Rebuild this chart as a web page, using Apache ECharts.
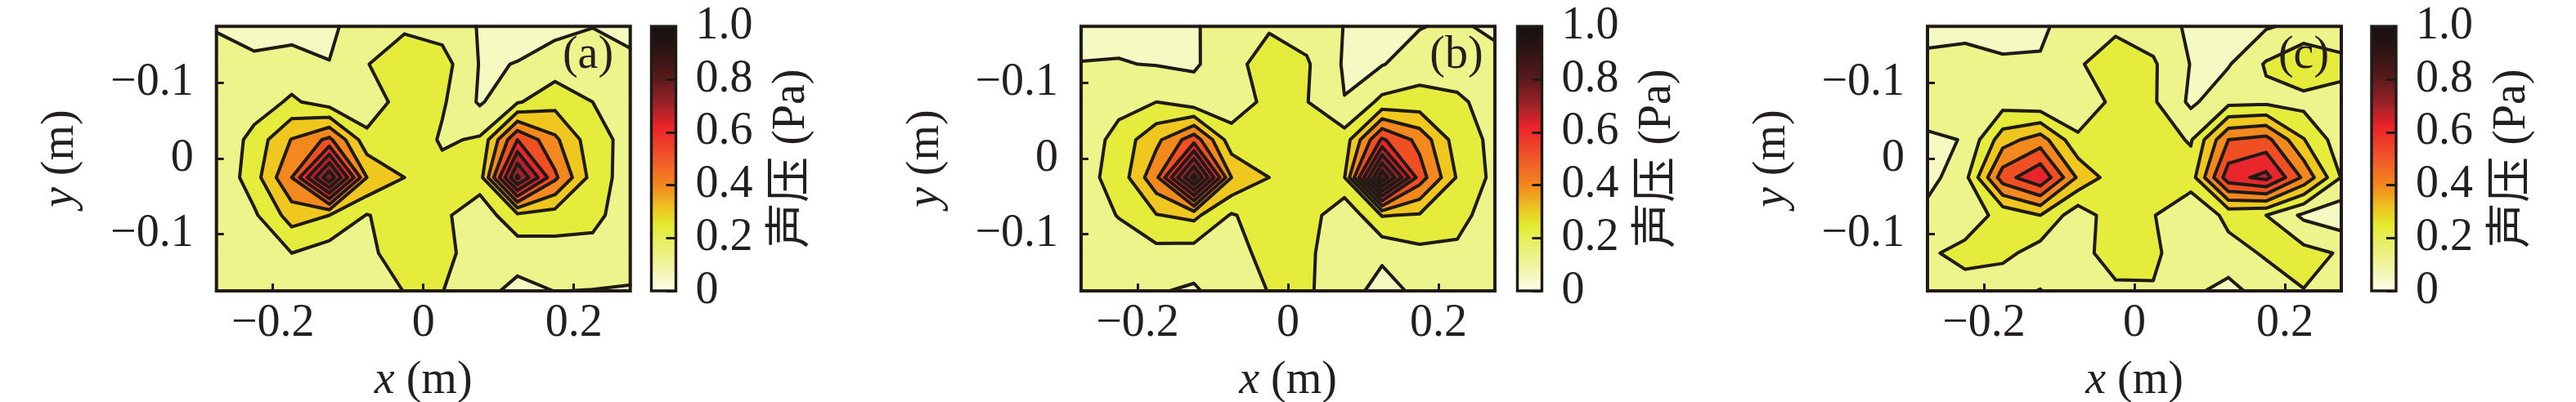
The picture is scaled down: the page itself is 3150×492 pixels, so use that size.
<!DOCTYPE html>
<html><head><meta charset="utf-8">
<style>html,body{margin:0;padding:0;background:#fff}#c{width:3150px;height:492px}</style>
<script src="https://cdn.jsdelivr.net/npm/echarts@6/dist/echarts.min.js"></script>
</head><body><div id="c"></div>
<script>
const xValues=[-0.275,-0.225,-0.175,-0.125,-0.075,-0.025,0.025,0.075,0.125,0.175,0.225,0.275];
const yValues=[-0.175,-0.125,-0.075,-0.025,0.025,0.075,0.125,0.175];
const pressureA=[
[.074,.035,.057,.064,.124,.144,.128,.075,.068,.059,.078,.042],
[.112,.104,.104,.082,.156,.224,.193,.076,.081,.116,.124,.108],
[.096,.114,.174,.119,.096,.208,.171,.070,.152,.212,.160,.120],
[.084,.190,.324,.419,.189,.232,.148,.170,.480,.336,.192,.133],
[.088,.205,.400,.784,.320,.240,.192,.200,.736,.416,.208,.116],
[.104,.147,.275,.240,.156,.200,.176,.112,.219,.204,.184,.112],
[.100,.112,.160,.121,.144,.196,.184,.120,.111,.124,.132,.096],
[.096,.104,.112,.112,.120,.162,.162,.104,.060,.081,.078,.077]];
const pressureB=[
[.056,.064,.060,.072,.120,.147,.129,.078,.064,.076,.096,.058],
[.082,.083,.077,.072,.119,.218,.169,.071,.076,.120,.125,.115],
[.096,.132,.160,.111,.120,.180,.163,.082,.180,.192,.172,.132],
[.105,.191,.299,.448,.191,.208,.196,.195,.492,.374,.200,.141],
[.133,.188,.380,.832,.320,.240,.204,.236,.864,.440,.232,.138],
[.112,.164,.236,.260,.152,.208,.204,.093,.244,.232,.184,.122],
[.096,.112,.134,.124,.128,.188,.172,.120,.096,.138,.146,.112],
[.096,.104,.086,.069,.128,.162,.170,.118,.048,.100,.108,.104]];
const pressureC=[
[.047,.054,.058,.065,.123,.139,.122,.066,.064,.072,.104,.086],
[.104,.112,.088,.088,.148,.218,.170,.077,.074,.168,.228,.192],
[.106,.104,.125,.094,.096,.184,.170,.065,.136,.142,.132,.122],
[.072,.082,.285,.360,.176,.208,.202,.152,.400,.428,.244,.112],
[.050,.135,.443,.548,.308,.192,.184,.200,.528,.584,.384,.156],
[.106,.127,.180,.240,.108,.214,.164,.096,.181,.160,.064,.030],
[.151,.178,.184,.122,.120,.213,.176,.106,.133,.168,.187,.152],
[.120,.136,.096,.078,.120,.138,.154,.098,.051,.122,.158,.112]];
const panelLabels=['(a)','(b)','(c)'];
const contourLevels=[0,.08,.16,.24,.32,.40,.48,.56,.64,.72,.80];
const bandColors=['#f5f9c2','#ecf48b','#e5ec3c','#efc71f','#f3881f','#f04f24','#e8262b','#b8202c','#9d2228','#7a1f24','#5a1a1c'];
const colorStops=[[0,'#fefef0'],[.1,'#f0f4a0'],[.2,'#e7ee5c'],[.25,'#e3ea2e'],[.31,'#ecc722'],[.4,'#f3881f'],[.5,'#f0582a'],[.62,'#ec2229'],[.7,'#9d2228'],[.8,'#5a1a1c'],[.9,'#2f1414'],[1,'#141012']];
const xTickValues=[-0.2,0,0.2], xTickLabels=['\u22120.2','0','0.2'];
const yTickValues=[-0.1,0,0.1], yTickLabels=['\u22120.1','0','\u22120.1'];
const barTickValues=[0,.2,.4,.6,.8,1], barTickLabels=['0','0.2','0.4','0.6','0.8','1.0'];

const INK='#231f20', FONT='"Liberation Serif","Noto Sans CJK SC",serif', FS=56;
const layout=[{left:264.7,bar:796.5,lab:719},{left:1322,bar:1855.5,lab:1781},{left:2357,bar:2900,lab:2817}];
const TOP=32.3,H=323.7,W=506,BW=30;

function contourPaths(P,level){
  let fill='',line='';
  const poly=a=>{fill+='M'+a.map(p=>p[0].toFixed(2)+' '+p[1].toFixed(2)).join('L')+'Z';};
  const seg=(p,q)=>{line+='M'+p[0].toFixed(2)+' '+p[1].toFixed(2)+'L'+q[0].toFixed(2)+' '+q[1].toFixed(2);};
  const cross=(p,q,u,v)=>{const t=(level-u)/(v-u);return [p[0]+t*(q[0]-p[0]),p[1]+t*(q[1]-p[1])];};
  for(let r=0;r<P.length-1;r++)for(let c=0;c<P[0].length-1;c++){
    const k=[P[r][c],P[r][c+1],P[r+1][c+1],P[r+1][c]];
    const vals=[k[0].v,k[1].v,k[2].v,k[3].v], pts=k.map(o=>o.p), up=vals.map(v=>v>=level);
    const saddle=up[0]===up[2]&&up[1]===up[3]&&up[0]!==up[1];
    const mean=(vals[0]+vals[1]+vals[2]+vals[3])/4;
    if(saddle&&mean<level){
      for(let i=0;i<4;i++)if(up[i]){
        const n=(i+1)%4,m=(i+3)%4;
        const A=cross(pts[m],pts[i],vals[m],vals[i]),B=cross(pts[i],pts[n],vals[i],vals[n]);
        poly([A,pts[i],B]);seg(B,A);
      }
      continue;
    }
    const out=[];let leave=null;
    let start=up.indexOf(true); if(start<0)continue;
    for(let s=0;s<4;s++){
      const i=(start+s)%4,n=(i+1)%4;
      if(up[i])out.push(pts[i]);
      if(up[i]!==up[n]){
        const X=cross(pts[i],pts[n],vals[i],vals[n]);
        out.push(X);
        if(up[i])leave=X; else {seg(leave,X);}
      }
    }
    poly(out);
  }
  return {fill,line};
}
function contourSeries(Z,i){
  return {type:'custom',xAxisIndex:i,yAxisIndex:i,z:2,silent:true,clip:false,animation:false,
    data:[[xValues[0],yValues[0]]],
    renderItem(params,api){
      const P=Z.map((row,r)=>row.map((v,c)=>({v,p:api.coord([xValues[c],yValues[r]])})));
      const children=[],lines=[];
      contourLevels.forEach((L,k)=>{
        const g=contourPaths(P,L);
        if(g.fill)children.push({type:'path',shape:{pathData:g.fill},style:{fill:bandColors[k],stroke:bandColors[k],lineWidth:.5}});
        if(k>0&&g.line)lines.push({type:'path',shape:{pathData:g.line},style:{fill:null,stroke:'#1e1a16',lineWidth:4,lineCap:'round',lineJoin:'round'}});
      });
      const a=api.coord([xValues[0],yValues[0]]),b=api.coord([xValues[11],yValues[7]]);
      const frame={type:'rect',shape:{x:a[0],y:a[1],width:b[0]-a[0],height:b[1]-a[1]},style:{fill:null,stroke:'#1e1a16',lineWidth:4}};
      return {type:'group',children:children.concat(lines,[frame])};
    }};
}
function barSeries(i){
  return {type:'custom',xAxisIndex:i,yAxisIndex:i,z:2,silent:true,clip:false,animation:false,
    data:[[0,1]],
    renderItem(params,api){
      const a=api.coord([0,1]),b=api.coord([1,0]);
      return {type:'rect',shape:{x:a[0],y:a[1],width:b[0]-a[0],height:b[1]-a[1]},
        style:{stroke:'#1e1a16',lineWidth:3.4,
          fill:new echarts.graphic.LinearGradient(0,1,0,0,colorStops.map(s=>({offset:s[0],color:s[1]})))}};
    }};
}
const text={fontFamily:FONT,fontSize:FS,color:INK};
const nameStyle={fontFamily:FONT,fontSize:FS,color:INK,rich:{i:{fontFamily:FONT,fontSize:FS,fontStyle:'italic',color:INK}}};
const grid=[],xAxis=[],yAxis=[],series=[],graphic=[];
const lookup=(vals,labs)=>v=>{const i=vals.findIndex(t=>Math.abs(t-v)<1e-6);return i<0?'':labs[i];};
const tick=(len,w)=>({show:true,inside:true,length:len,lineStyle:{color:'#1e1a16',width:w}});
[pressureA,pressureB,pressureC].forEach((Z,i)=>{
  const L=layout[i];
  grid.push({left:L.left,top:TOP,width:W,height:H,outerBoundsMode:'none'});
  xAxis.push({type:'value',gridIndex:i,min:xValues[0],max:xValues[11],z:10,position:'bottom',
    axisLine:{show:false,onZero:false},splitLine:{show:false},
    axisTick:Object.assign(tick(9,3),{customValues:xTickValues}),
    axisLabel:Object.assign({},text,{margin:12,customValues:xTickValues,formatter:lookup(xTickValues,xTickLabels)}),
    name:'{i|x} (m)',nameLocation:'middle',nameGap:82,nameTextStyle:nameStyle});
  yAxis.push({type:'value',gridIndex:i,min:yValues[0],max:yValues[7],inverse:true,z:10,position:'left',
    axisLine:{show:false,onZero:false},splitLine:{show:false},
    axisTick:Object.assign(tick(9,3),{customValues:yTickValues}),
    axisLabel:Object.assign({},text,{margin:28,customValues:yTickValues,formatter:lookup(yTickValues,yTickLabels)}),
    name:'{i|y} (m)',nameLocation:'middle',nameRotate:90,nameGap:162,nameTextStyle:nameStyle});
  series.push(contourSeries(Z,i));
  graphic.push({type:'text',z:20,x:L.lab,y:68,style:{text:panelLabels[i],font:FS+'px '+FONT,fill:INK,textAlign:'center',textVerticalAlign:'middle'}});
});
[0,1,2].forEach(i=>{
  const L=layout[i],k=3+i;
  grid.push({left:L.bar,top:TOP,width:BW,height:H,outerBoundsMode:'none'});
  xAxis.push({type:'value',gridIndex:k,min:0,max:1,show:false});
  yAxis.push({type:'value',gridIndex:k,min:0,max:1,interval:.2,position:'right',z:10,
    axisLine:{show:false,onZero:false},splitLine:{show:false},
    axisTick:tick(12,3),
    axisLabel:Object.assign({},text,{margin:24,formatter:lookup(barTickValues,barTickLabels)}),
    name:'\u58f0\u538b (Pa)',nameLocation:'middle',nameRotate:90,nameGap:114,nameTextStyle:{fontFamily:FONT,fontSize:FS,color:INK}});
  series.push(barSeries(k));
});
const chart=echarts.init(document.getElementById('c'),null,{renderer:'canvas'});
chart.setOption({animation:false,backgroundColor:'#fff',grid,xAxis,yAxis,series,graphic});
</script></body></html>
